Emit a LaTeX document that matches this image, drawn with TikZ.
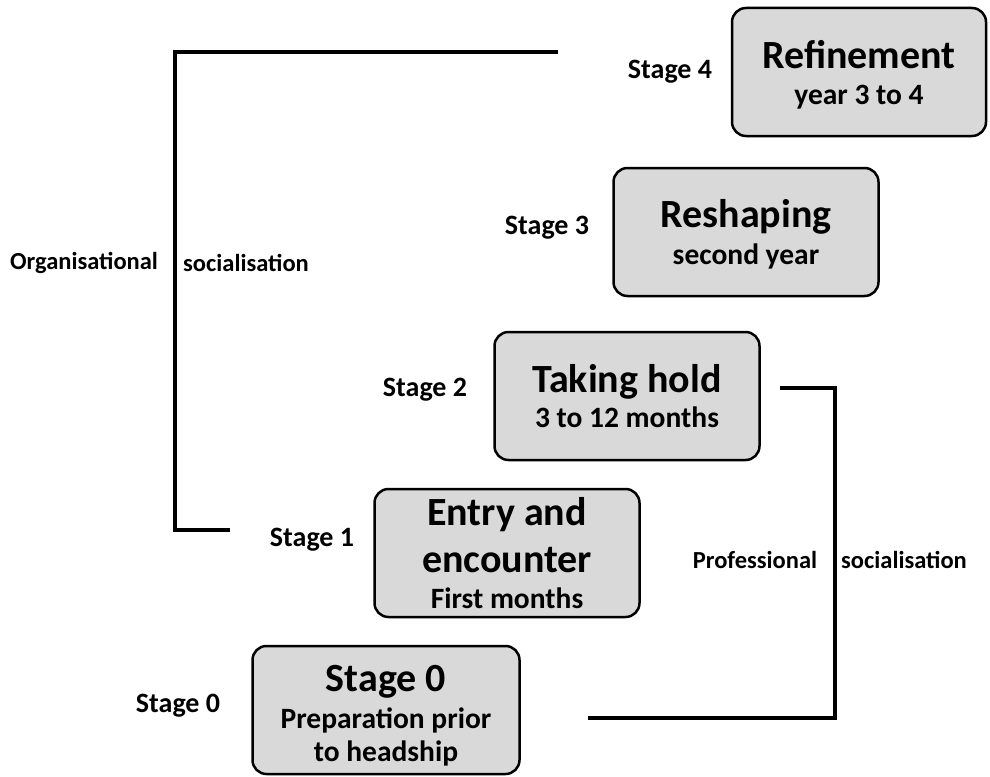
\documentclass[tikz,border=0pt]{standalone}
\usepackage{fontspec}
\setmainfont{Carlito}
\usepackage{tikz}

\tikzset{
  stagebox/.style={draw, line width=2.5pt, fill=black!15, rounded corners=14pt,
    minimum width=265pt, minimum height=128pt, align=center, inner sep=0pt,
    font=\fontsize{29.5}{36}\selectfont\bfseries},
  stagelabel/.style={font=\fontsize{28}{30}\selectfont\bfseries},
  sidelabel/.style={font=\fontsize{24.5}{28}\selectfont\bfseries},
  bracket/.style={line width=4.5pt}
}
\newcommand{\boxtitle}{\fontsize{40}{44}\selectfont}

\begin{document}
\begin{tikzpicture}[x=1pt,y=-1pt]
      \useasboundingbox (0,0) rectangle (990,776);

      \node[stagebox, minimum width=254pt, text depth=-1pt] (s4) at (859,72)
        {{\boxtitle Refinement}\\year 3 to 4};
      \node[stagebox, text depth=0pt] (s3) at (746,232)
        {{\boxtitle Reshaping}\\[1pt]second year};
      \node[stagebox] (s2) at (627,396)
        {{\boxtitle Taking hold}\\[-1pt]3 to 12 months};
      \node[stagebox] (s1) at (507,553)
        {{\boxtitle Entry and}\\[11pt]{\boxtitle encounter}\\[0pt]First months};
      \node[stagebox, minimum width=267pt, text depth=-6pt] (s0) at (386,710)
        {{\boxtitle\rule{0pt}{33pt}Stage 0}\\[1pt]Preparation prior\\[-3pt]to headship};

      \node[stagelabel] (l4) at (670,72) {Stage 4};
      \node[stagelabel] (l3) at (547,228) {Stage 3};
      \node[stagelabel] (l2) at (425,390) {Stage 2};
      \node[stagelabel] (l1) at (312,540) {Stage 1};
      \node[stagelabel] (l0) at (178,706) {Stage 0};

      \node[sidelabel] (org) at (84,263) {Organisational};
      \node[sidelabel] (orgsoc) at (246,263) {socialisation};
      \node[sidelabel] (prof) at (755,560) {Professional};
      \node[sidelabel] (profsoc) at (904,560) {socialisation};

      % organisational bracket
      \coordinate (ot) at (558,52);
      \coordinate (ob) at (230,530);
      \draw[bracket] (ot) -- (175,52) -- (175,530) -- (ob);

      % professional bracket
      \coordinate (pt) at (780,388);
      \coordinate (pb) at (588,718);
      \draw[bracket] (pt) -- (835,388) -- (835,718) -- (pb);
    \end{tikzpicture}
\end{document}
